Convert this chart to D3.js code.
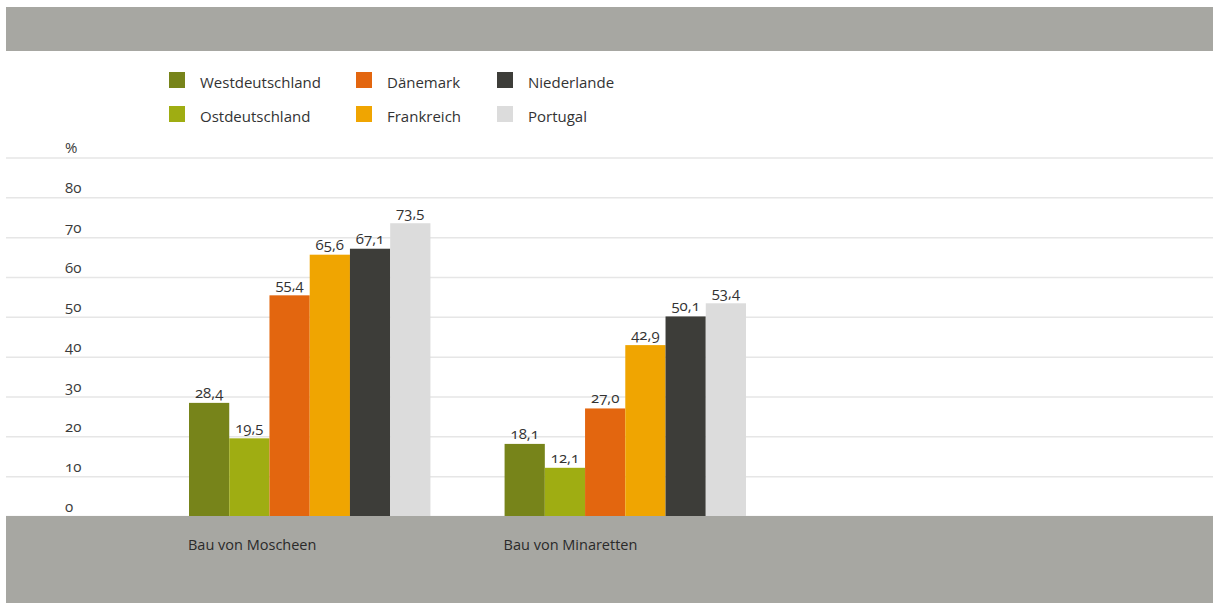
<!DOCTYPE html>
<html><head><meta charset="utf-8">
<script src="https://cdn.jsdelivr.net/npm/d3@7"></script>
<style>
body{margin:0;background:#fff;}
svg{display:block;font-family:"Open Sans",sans-serif;}
.num{font-feature-settings:"onum";font-variant-numeric:oldstyle-nums;}
</style></head>
<body><svg id="c" width="1213" height="603"></svg>
<script>
const categories = ["Bau von Moscheen", "Bau von Minaretten"];
const seriesNames = ["Westdeutschland", "Ostdeutschland", "Dänemark", "Frankreich", "Niederlande", "Portugal"];
const seriesColors = ["#77841a", "#9fad12", "#e3660f", "#f0a501", "#3d3d39", "#dcdcdc"];
const westdeutschland = [28.4, 18.1];
const ostdeutschland = [19.5, 12.1];
const daenemark = [55.4, 27.0];
const frankreich = [65.6, 42.9];
const niederlande = [67.1, 50.1];
const portugal = [73.5, 53.4];
const yTicks = [0, 10, 20, 30, 40, 50, 60, 70, 80, 90];
const yTickLabels = ["0", "10", "20", "30", "40", "50", "60", "70", "80", "%"];

const seriesValues = [westdeutschland, ostdeutschland, daenemark, frankreich, niederlande, portugal];
const data = categories.map((c, i) => ({cat: c, vals: seriesNames.map((s, j) => ({s, v: seriesValues[j][i], color: seriesColors[j]}))}));

const svg = d3.select("#c");
const W = 1213, left = 6;
const y = d3.scaleLinear().domain([0, 90]).range([516, 157.5]);
const x0 = d3.scaleBand().domain(categories).range([189, 746]).paddingInner(0.235).paddingOuter(0);
const x1 = d3.scaleBand().domain(seriesNames).range([0, x0.bandwidth()]).padding(0);

// top band
svg.append("rect").attr("x", left).attr("y", 7).attr("width", W - left).attr("height", 44).attr("fill", "#a7a7a2");

// grid / y axis
const yAxis = d3.axisLeft(y).tickValues(yTicks).tickSize(W - left).tickFormat((d, i) => yTickLabels[i]);
const ga = svg.append("g").attr("transform", `translate(${W},0)`).call(yAxis);
ga.select(".domain").remove();
ga.selectAll(".tick line").attr("stroke", "#e6e6e6").attr("stroke-width", 1.5);
ga.selectAll(".tick text")
  .attr("class", "num")
  .attr("x", -(W - 65)).attr("dy", -5).attr("text-anchor", "start")
  .attr("fill", "#3a3a3a").attr("font-size", 15).attr("font-family", "Open Sans, sans-serif");

// bars
const g = svg.append("g");
const grp = g.selectAll("g.grp").data(data).join("g").attr("transform", d => `translate(${x0(d.cat)},0)`);
grp.selectAll("rect").data(d => d.vals).join("rect")
  .attr("x", d => x1(d.s)).attr("width", x1.bandwidth())
  .attr("y", d => y(d.v)).attr("height", d => y(0) - y(d.v))
  .attr("fill", d => d.color);
grp.selectAll("text").data(d => d.vals).join("text")
  .attr("class", "num")
  .attr("x", d => x1(d.s) + x1.bandwidth() / 2).attr("y", d => y(d.v) - 5)
  .attr("text-anchor", "middle").attr("font-size", 15).attr("fill", "#333")
  .text(d => d3.format(".1f")(d.v).replace(".", ","));

// bottom band
svg.append("rect").attr("x", left).attr("y", 516).attr("width", W - left).attr("height", 87).attr("fill", "#a7a7a2");

// x axis labels
const xAxis = d3.axisBottom(x0).tickSize(0).tickPadding(0);
const gx = svg.append("g").attr("transform", "translate(0,516)").call(xAxis);
gx.select(".domain").remove();
gx.selectAll(".tick text").attr("text-anchor", "start").attr("x", -x0.bandwidth() / 2 - 1)
  .attr("y", 34).attr("dy", 0).attr("font-size", 14.5).attr("fill", "#2a2a2a").attr("font-family", "Open Sans, sans-serif");

// legend
const legCols = [169, 356, 497];
const legRows = [72, 106];
const leg = svg.append("g").selectAll("g").data(seriesNames).join("g")
  .attr("transform", (d, i) => `translate(${legCols[Math.floor(i / 2)]},${legRows[i % 2]})`);
leg.append("rect").attr("width", 16).attr("height", 16).attr("fill", (d, i) => seriesColors[i]);
leg.append("text").attr("x", 31).attr("y", 16).attr("font-size", 15).attr("fill", "#333").text(d => d);
</script></body></html>
